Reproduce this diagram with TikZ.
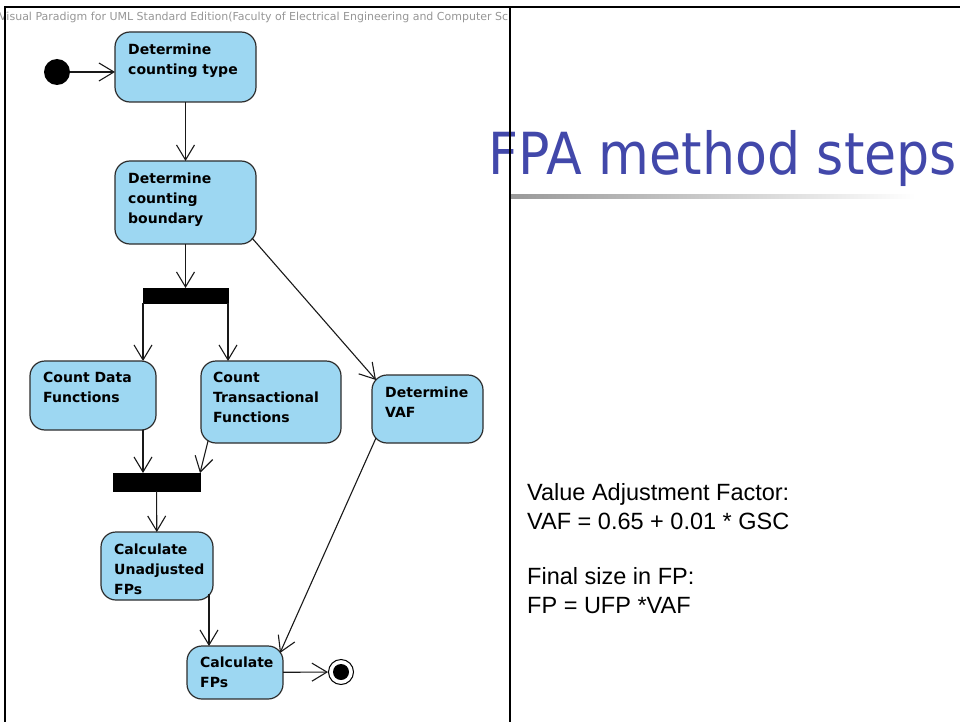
\documentclass[tikz,border=0pt]{standalone}
\usepackage{fontspec}
\newfontfamily\dejavu{DejaVu Sans}
\newfontfamily\arialf{Liberation Sans}
\usetikzlibrary{arrows.meta,calc}
\definecolor{actfill}{RGB}{157,215,242}
\definecolor{actdraw}{RGB}{45,45,45}
\definecolor{titleblue}{RGB}{66,72,170}
\definecolor{hdrgray}{RGB}{150,150,150}
\begin{document}
\begin{tikzpicture}[x=1pt,y=-1pt,
  act/.style={draw=actdraw, fill=actfill, rounded corners=15pt, line width=1.2pt, inner sep=0pt, outer sep=0pt},
  acttext/.style={anchor=north west, inner sep=0pt, align=left, font=\dejavu\bfseries\fontsize{14}{20}\selectfont},
  bar/.style={fill=black, draw=black, inner sep=0pt, outer sep=0pt},
  flow/.style={draw=black!90, line width=1.1pt, -{Straight Barb[length=15pt,width=18pt]}},
  ]
\useasboundingbox (0,0) rectangle (960,722);

% title (drawn before frame line)
\node[anchor=base west, inner sep=0pt, text=titleblue, font=\dejavu\fontsize{58}{60}\selectfont] (title) at (488,175) {\scalebox{0.9}[1]{FPA method steps}};
\shade[left color=black!40, right color=white] (510,194) rectangle (915,198);

% header
\begin{scope}
\clip (0,7) rectangle (509,40);
\node[anchor=base west, inner sep=0pt, text=hdrgray, font=\dejavu\fontsize{11}{12}\selectfont] (hdr) at (-1,21) {Visual Paradigm for UML Standard Edition(Faculty of Electrical Engineering and Computer Science)};
\end{scope}

% frame
\draw[line width=1.2pt] (5,722) -- (5,7) -- (960,7);
\draw[line width=1.2pt] (510,7) -- (510,722);

% activity nodes
\node[act, minimum width=141pt, minimum height=70pt] (n1) at (185.5,67) {};
\node[acttext] (t1) at ($(n1.north west)+(13,12)$) {Determine\\counting type};
\node[act, minimum width=141pt, minimum height=83pt] (n2) at (185.5,202.5) {};
\node[acttext] (t2) at ($(n2.north west)+(13,12)$) {Determine\\counting\\boundary};
\node[bar, minimum width=85pt, minimum height=15pt] (f1) at (185.5,295.5) {};
\node[act, minimum width=126pt, minimum height=69pt] (n3) at (93,395.5) {};
\node[acttext] (t3) at ($(n3.north west)+(13,11)$) {Count Data\\Functions};
\node[act, minimum width=140pt, minimum height=82pt] (n4) at (271,402) {};
\node[acttext] (t4) at ($(n4.north west)+(12,11)$) {Count\\Transactional\\Functions};
\node[act, minimum width=111pt, minimum height=68pt] (n5) at (427.5,409) {};
\node[acttext] (t5) at ($(n5.north west)+(13,12)$) {Determine\\VAF};
\node[bar, minimum width=87pt, minimum height=18pt] (f2) at (156.5,482) {};
\node[act, minimum width=112pt, minimum height=68pt] (n6) at (157,566) {};
\node[acttext] (t6) at ($(n6.north west)+(13,12)$) {Calculate\\Unadjusted\\FPs};
\node[act, minimum width=96pt, minimum height=53pt] (n7) at (235,672.5) {};
\node[acttext] (t7) at ($(n7.north west)+(13,11)$) {Calculate\\FPs};

% initial / final
\node[circle, fill=black, minimum size=26pt, inner sep=0pt] (init) at (57,72) {};
\node[circle, draw=black, line width=1pt, fill=white, minimum size=25pt, inner sep=0pt] (fin) at (341,672) {};
\node[circle, fill=black, minimum size=16pt, inner sep=0pt] (finin) at (fin.center) {};

% connectors
\coordinate (c6) at ($(n6.south east)+(-4,-6)$);
\draw[flow] (init) -- (init -| n1.west);
\draw[flow] (n1) -- (n2);
\draw[flow] (n2) -- (f1);
\draw[flow] (f1.south west) -- (f1.south west |- n3.north);
\draw[flow] (f1.south east) -- (f1.south east |- n4.north);
\draw[flow] ($(n2.south east)+(-4,-6)$) -- ($(n5.north west)+(4,5)$);
\draw[flow] (f1.south west |- n3.south) -- (f1.south west |- f2.north);
\draw[flow] ($(n4.south west)+(7,-2)$) -- (f2.north east);
\draw[flow] (f2) -- (n6);
\draw[flow] (c6) -- (c6 |- n7.north);
\draw[flow] ($(n5.south west)+(4,-5)$) -- ($(n7.north east)+(-3,7)$);
\draw[flow] (n7) -- (fin);

% notes
\node[anchor=base west, inner sep=0pt, align=left, font=\arialf\fontsize{23.5}{28.5}\selectfont] (note1) at (527,529) {Value Adjustment Factor:\\VAF = 0.65 + 0.01 * GSC};
\node[anchor=base west, inner sep=0pt, align=left, font=\arialf\fontsize{23.5}{28.5}\selectfont] (note2) at (527,613) {Final size in FP:\\FP = UFP *VAF};
\end{tikzpicture}
\end{document}
